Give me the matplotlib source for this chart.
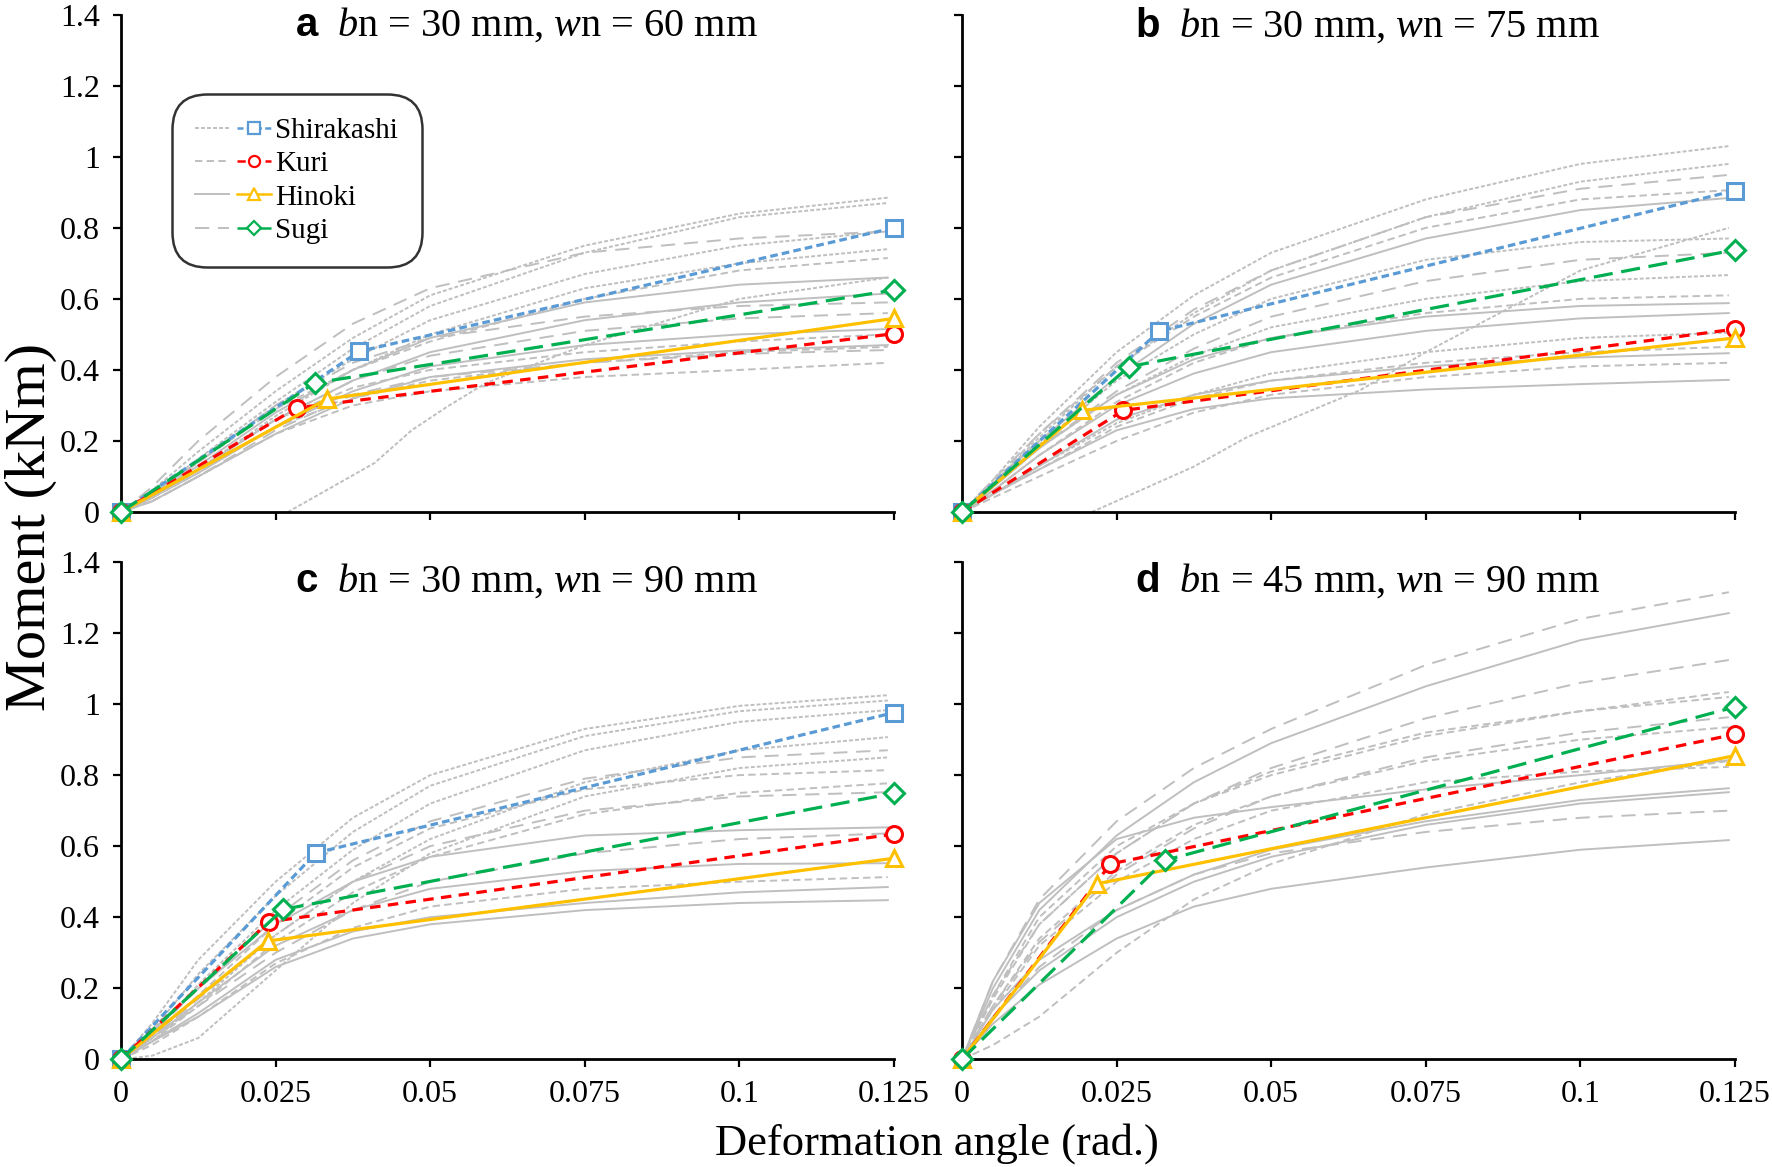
import matplotlib
matplotlib.use("Agg")
import matplotlib.pyplot as plt
from matplotlib.lines import Line2D
from matplotlib.legend_handler import HandlerTuple

SERIF = ['Liberation Serif', 'DejaVu Serif']
plt.rcParams['font.family'] = SERIF
plt.rcParams['font.serif'] = ['Liberation Serif', 'DejaVu Serif']
plt.rcParams['mathtext.fontset'] = 'custom'
plt.rcParams['mathtext.rm'] = 'Liberation Serif'
plt.rcParams['mathtext.it'] = 'Liberation Serif:italic'
plt.rcParams['mathtext.bf'] = 'Liberation Sans:bold'

# ---------------- data ----------------
SPECIES = ['Shirakashi', 'Kuri', 'Hinoki', 'Sugi']
X_TICKS = [0, 0.025, 0.05, 0.075, 0.1, 0.125]
X_TICK_LABELS = ['0', '0.025', '0.05', '0.075', '0.1', '0.125']
Y_TICKS = [0, 0.2, 0.4, 0.6, 0.8, 1.0, 1.2, 1.4]
Y_TICK_LABELS = ['0', '0.2', '0.4', '0.6', '0.8', '1', '1.2', '1.4']
PANEL_LETTERS = ['a', 'b', 'c', 'd']
PANEL_BN = [30, 30, 30, 45]
PANEL_WN = [60, 75, 90, 90]

# bilinear models: [Shirakashi, Kuri, Hinoki, Sugi]
YIELD_ANGLE_A = [0.0385, 0.0284, 0.0333, 0.0313]
YIELD_MOMENT_A = [0.452, 0.293, 0.318, 0.363]
ULT_MOMENT_A = [0.800, 0.502, 0.545, 0.625]
YIELD_ANGLE_B = [0.0319, 0.0261, 0.0194, 0.0270]
YIELD_MOMENT_B = [0.509, 0.286, 0.286, 0.409]
ULT_MOMENT_B = [0.905, 0.515, 0.490, 0.738]
YIELD_ANGLE_C = [0.0315, 0.0239, 0.0237, 0.0262]
YIELD_MOMENT_C = [0.581, 0.387, 0.333, 0.422]
ULT_MOMENT_C = [0.976, 0.634, 0.566, 0.749]
YIELD_ANGLE_D = [None, 0.0240, 0.0218, 0.0328]
YIELD_MOMENT_D = [None, 0.550, 0.494, 0.560]
ULT_MOMENT_D = [None, 0.915, 0.855, 0.992]
ULT_ANGLE = 0.125

# experimental curves (gray), moments at common angle grid
ANGLE_GRID = [0, 0.005, 0.0125, 0.025, 0.0375, 0.05, 0.075, 0.1, 0.124]

A_SHIRA = [[0, 0.06, 0.17, 0.34, 0.49, 0.61, 0.75, 0.84, 0.885],
           [0, 0.05, 0.15, 0.31, 0.46, 0.58, 0.73, 0.83, 0.870],
           [0, 0.05, 0.14, 0.30, 0.43, 0.54, 0.67, 0.75, 0.790],
           [0, 0.04, 0.12, 0.27, 0.40, 0.50, 0.63, 0.70, 0.740]]
A_KURI = [[0, 0.05, 0.14, 0.29, 0.40, 0.48, 0.60, 0.68, 0.715],
          [0, 0.04, 0.12, 0.26, 0.35, 0.40, 0.45, 0.48, 0.500],
          [0, 0.03, 0.10, 0.22, 0.30, 0.34, 0.38, 0.40, 0.420],
          [0, 0.04, 0.11, 0.24, 0.32, 0.37, 0.42, 0.45, 0.465]]
A_HINOKI = [[0, 0.05, 0.13, 0.28, 0.40, 0.49, 0.59, 0.64, 0.660],
            [0, 0.04, 0.12, 0.26, 0.37, 0.45, 0.54, 0.59, 0.615],
            [0, 0.04, 0.11, 0.24, 0.34, 0.41, 0.47, 0.50, 0.515],
            [0, 0.03, 0.10, 0.22, 0.32, 0.38, 0.43, 0.455, 0.470]]
A_SUGI = [[0, 0.07, 0.20, 0.38, 0.53, 0.63, 0.73, 0.77, 0.790],
          [0, 0.05, 0.14, 0.30, 0.42, 0.49, 0.55, 0.58, 0.590],
          [0, 0.04, 0.12, 0.26, 0.37, 0.44, 0.51, 0.545, 0.560],
          [0, 0.03, 0.10, 0.23, 0.33, 0.38, 0.42, 0.445, 0.456]]
A_LATE_ANGLE = [0.027, 0.041, 0.047, 0.0527, 0.059, 0.075, 0.1, 0.124]
A_LATE_MOMENT = [0, 0.138, 0.23, 0.296, 0.363, 0.47, 0.60, 0.66]

B_SHIRA = [[0, 0.09, 0.24, 0.45, 0.61, 0.73, 0.88, 0.98, 1.030],
           [0, 0.08, 0.21, 0.41, 0.56, 0.68, 0.83, 0.93, 0.980],
           [0, 0.07, 0.19, 0.37, 0.50, 0.60, 0.71, 0.76, 0.770],
           [0, 0.07, 0.18, 0.33, 0.44, 0.52, 0.60, 0.65, 0.667],
           [0, 0.05, 0.13, 0.25, 0.33, 0.39, 0.45, 0.49, 0.505]]
B_KURI = [[0, 0.08, 0.22, 0.41, 0.55, 0.66, 0.80, 0.88, 0.906],
          [0, 0.06, 0.16, 0.31, 0.42, 0.49, 0.56, 0.60, 0.610],
          [0, 0.05, 0.12, 0.24, 0.32, 0.37, 0.42, 0.45, 0.465],
          [0, 0.04, 0.10, 0.20, 0.28, 0.33, 0.38, 0.41, 0.420]]
B_HINOKI = [[0, 0.08, 0.20, 0.38, 0.53, 0.64, 0.77, 0.85, 0.884],
            [0, 0.07, 0.18, 0.33, 0.43, 0.49, 0.55, 0.58, 0.588],
            [0, 0.06, 0.16, 0.30, 0.39, 0.45, 0.51, 0.545, 0.560],
            [0, 0.05, 0.13, 0.26, 0.33, 0.37, 0.41, 0.435, 0.447],
            [0, 0.05, 0.12, 0.23, 0.29, 0.32, 0.345, 0.36, 0.372]]
B_SUGI = [[0, 0.09, 0.22, 0.42, 0.57, 0.68, 0.83, 0.91, 0.949],
          [0, 0.07, 0.18, 0.34, 0.46, 0.55, 0.65, 0.71, 0.730]]
B_LATE_ANGLE = [0.021, 0.0374, 0.046, 0.0644, 0.075, 0.1, 0.124]
B_LATE_MOMENT = [0, 0.127, 0.21, 0.343, 0.45, 0.68, 0.80]

C_SHIRA = [[0, 0.10, 0.28, 0.50, 0.68, 0.80, 0.93, 0.995, 1.025],
           [0, 0.08, 0.24, 0.46, 0.64, 0.77, 0.91, 0.98, 1.010],
           [0, 0.07, 0.21, 0.42, 0.59, 0.72, 0.87, 0.95, 0.983],
           [0, 0.05, 0.16, 0.35, 0.50, 0.62, 0.78, 0.87, 0.907],
           [0, 0.01, 0.06, 0.25, 0.44, 0.58, 0.74, 0.82, 0.850]]
C_KURI = [[0, 0.06, 0.18, 0.38, 0.54, 0.65, 0.76, 0.80, 0.814],
          [0, 0.05, 0.15, 0.33, 0.47, 0.57, 0.69, 0.75, 0.777],
          [0, 0.04, 0.12, 0.27, 0.37, 0.43, 0.48, 0.50, 0.513]]
C_HINOKI = [[0, 0.08, 0.20, 0.38, 0.50, 0.57, 0.63, 0.645, 0.653],
            [0, 0.06, 0.16, 0.32, 0.42, 0.48, 0.53, 0.55, 0.552],
            [0, 0.05, 0.13, 0.28, 0.36, 0.40, 0.44, 0.47, 0.485],
            [0, 0.05, 0.12, 0.26, 0.34, 0.38, 0.42, 0.44, 0.448]]
C_SUGI = [[0, 0.07, 0.20, 0.40, 0.56, 0.67, 0.79, 0.85, 0.870],
          [0, 0.06, 0.17, 0.35, 0.50, 0.60, 0.70, 0.74, 0.752],
          [0, 0.06, 0.15, 0.30, 0.42, 0.50, 0.58, 0.62, 0.636]]

D_SHIRA = []
D_KURI = [[0, 0.18, 0.40, 0.60, 0.72, 0.80, 0.91, 0.98, 1.034],
          [0, 0.14, 0.32, 0.50, 0.62, 0.70, 0.78, 0.81, 0.823],
          [0, 0.04, 0.12, 0.30, 0.45, 0.55, 0.69, 0.78, 0.840],
          [0, 0.17, 0.38, 0.58, 0.72, 0.81, 0.92, 0.98, 1.020],
          [0, 0.15, 0.34, 0.53, 0.66, 0.74, 0.84, 0.90, 0.935]]
D_HINOKI = [[0, 0.20, 0.42, 0.63, 0.78, 0.89, 1.05, 1.18, 1.256],
            [0, 0.22, 0.44, 0.62, 0.68, 0.71, 0.76, 0.80, 0.842],
            [0, 0.14, 0.28, 0.42, 0.52, 0.59, 0.67, 0.73, 0.763],
            [0, 0.12, 0.25, 0.40, 0.50, 0.57, 0.66, 0.72, 0.752],
            [0, 0.10, 0.21, 0.34, 0.43, 0.48, 0.54, 0.59, 0.617]]
D_SUGI = [[0, 0.22, 0.45, 0.67, 0.82, 0.93, 1.11, 1.24, 1.315],
          [0, 0.18, 0.38, 0.58, 0.72, 0.82, 0.96, 1.06, 1.124],
          [0, 0.12, 0.26, 0.42, 0.52, 0.58, 0.64, 0.68, 0.700],
          [0, 0.15, 0.33, 0.52, 0.65, 0.74, 0.85, 0.92, 0.963]]

# ---------------- styles ----------------
COLORS = ['#5B9BD5', '#FF0000', '#FFC000', '#00B050']
MARKERS = ['s', 'o', '^', 'D']
MODEL_LS = [(0, (2.4, 1.3)), (0, (3.3, 2.3)), '-', (0, (6.0, 2.7))]
GRAY = '#BFBFBF'
GRAY_LS = [(0, (2.0, 1.1)), (0, (3.8, 2.2)), '-', (0, (7.3, 4.5))]

fig = plt.figure(figsize=(17.72, 11.67), dpi=100)
W, H = 1772.0, 1167.0
lefts = [121, 962]
tops = [14.7, 562]
aw, ah = 773, 497.3
positions = [(lefts[0], tops[0]), (lefts[1], tops[0]), (lefts[0], tops[1]), (lefts[1], tops[1])]

panels = [
    (A_SHIRA, A_KURI, A_HINOKI, A_SUGI, (A_LATE_ANGLE, A_LATE_MOMENT),
     YIELD_ANGLE_A, YIELD_MOMENT_A, ULT_MOMENT_A),
    (B_SHIRA, B_KURI, B_HINOKI, B_SUGI, (B_LATE_ANGLE, B_LATE_MOMENT),
     YIELD_ANGLE_B, YIELD_MOMENT_B, ULT_MOMENT_B),
    (C_SHIRA, C_KURI, C_HINOKI, C_SUGI, None,
     YIELD_ANGLE_C, YIELD_MOMENT_C, ULT_MOMENT_C),
    (D_SHIRA, D_KURI, D_HINOKI, D_SUGI, None,
     YIELD_ANGLE_D, YIELD_MOMENT_D, ULT_MOMENT_D),
]
title_y = [0.978, 0.978, 0.962, 0.962]

axes = []
for i, (px, py) in enumerate(positions):
    ax = fig.add_axes([px / W, 1 - (py + ah) / H, aw / W, ah / H])
    axes.append(ax)
    sh, ku, hi, su, late, ya, ym, um = panels[i]
    for j, group in enumerate([sh, ku, hi, su]):
        for curve in group:
            ax.plot(ANGLE_GRID, curve, color=GRAY, lw=1.4, ls=GRAY_LS[j],
                    zorder=1)
    if late is not None:
        ax.plot(late[0], late[1], color=GRAY, lw=1.4, ls=GRAY_LS[0], zorder=1)
    for j in range(4):
        if ya[j] is None:
            continue
        ax.plot([0, ya[j], ULT_ANGLE], [0, ym[j], um[j]], color=COLORS[j],
                ls=MODEL_LS[j], lw=2.3, marker=MARKERS[j],
                ms=(11.5 if MARKERS[j] != 'D' else 10), mew=2.2,
                mfc='white', mec=COLORS[j], clip_on=False, zorder=3 + j)
    ax.set_xlim(0, 0.125)
    ax.set_ylim(0, 1.4)
    ax.spines['top'].set_visible(False)
    ax.spines['right'].set_visible(False)
    for s in ['left', 'bottom']:
        ax.spines[s].set_linewidth(2.0)
        ax.spines[s].set_zorder(2)
    ax.set_xticks(X_TICKS)
    ax.set_yticks(Y_TICKS)
    ax.tick_params(direction='out', length=6, width=1.6, pad=9)
    if i in (2, 3):
        ax.set_xticklabels(X_TICK_LABELS, fontfamily=SERIF, fontsize=23)
    else:
        ax.set_xticklabels([])
    if i in (0, 2):
        ax.set_yticklabels(Y_TICK_LABELS, fontfamily=SERIF, fontsize=23)
    else:
        ax.set_yticklabels([])
    ax.text(0.525, title_y[i],
            r'$\mathbf{%s}$  $b$n = %d mm, $w$n = %d mm' % (PANEL_LETTERS[i], PANEL_BN[i], PANEL_WN[i]),
            transform=ax.transAxes, ha='center', va='center', fontsize=29,
            fontfamily=SERIF)

# legend
handles = []
for j in range(4):
    g = Line2D([], [], color=GRAY, lw=1.4, ls=GRAY_LS[j])
    c = Line2D([], [], color=COLORS[j], lw=1.8, ls=MODEL_LS[j], marker=MARKERS[j],
               ms=(8 if MARKERS[j] != 'D' else 7), mew=1.6, mfc='white', mec=COLORS[j])
    handles.append((g, c))
leg = axes[0].legend(handles, SPECIES, handler_map={tuple: HandlerTuple(ndivide=None, pad=0.3)},
                     loc='upper left', bbox_to_anchor=(0.077, 0.823), borderaxespad=0,
                     prop={'family': SERIF, 'size': 21},
                     handlelength=2.6, handletextpad=0.15, labelspacing=0.24,
                     borderpad=0.5, frameon=True, fancybox=True)
frame = leg.get_frame()
frame.set_edgecolor('black')
frame.set_linewidth(1.8)
frame.set_boxstyle('round,pad=0.3,rounding_size=1.2')
leg.set_zorder(10)

fig.text(937 / W, 1 - 1144 / H, 'Deformation angle (rad.)', ha='center', va='center',
         fontsize=32, fontfamily=SERIF)
fig.text(31 / W, 1 - 527 / H, 'Moment (kNm)', ha='center', va='center', rotation=90,
         fontsize=42, fontfamily=SERIF)

fig.savefig('out.png', dpi=100)
